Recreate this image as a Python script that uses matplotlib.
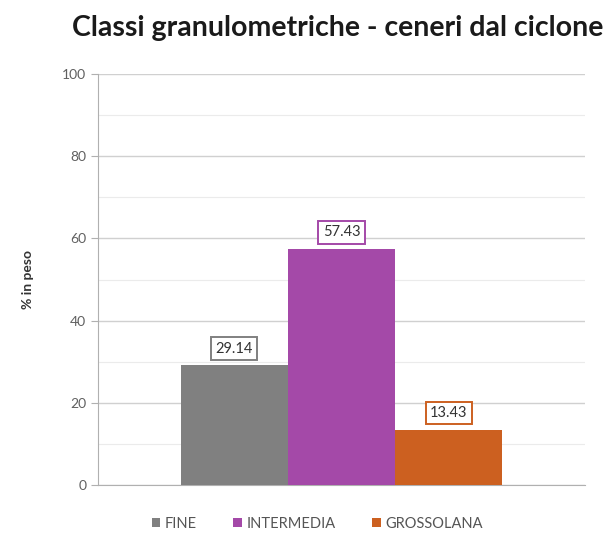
import matplotlib.pyplot as plt
from matplotlib.ticker import MultipleLocator

# dati
classi = ['FINE', 'INTERMEDIA', 'GROSSOLANA']
valori = [29.14, 57.43, 13.43]
colori = ['#808080', '#a449a8', '#cc6020']

plt.rcParams['font.family'] = ['Lato', 'DejaVu Sans']

fig = plt.figure(figsize=(6.14, 5.47), dpi=100)
ax = fig.add_axes([0.1596, 0.1133, 0.7934, 0.7514])

larg = 0.22
for i, (c, v, col) in enumerate(zip(classi, valori, colori)):
    x = (i - 1) * larg
    ax.bar(x, v, width=larg, color=col, label=c, zorder=3)
    ax.annotate(f'{v:.2f}', (x, v), xytext=(0, 7), textcoords='offset points',
                ha='center', va='bottom', fontsize=10.5, color='#333333',
                bbox=dict(boxstyle='square,pad=0.3', fc='white', ec=col, lw=1.4),
                zorder=4)

ax.set_xlim(-0.5, 0.5)
ax.set_ylim(0, 100)
ax.yaxis.set_major_locator(MultipleLocator(20))
ax.yaxis.set_minor_locator(MultipleLocator(10))
ax.grid(axis='y', which='major', color='#d0d0d0', lw=1.0, zorder=0)
ax.grid(axis='y', which='minor', color='#ebebeb', lw=0.8, zorder=0)
ax.set_xticks([])
ax.tick_params(axis='y', which='major', length=5, color='#b0b0b0',
               labelcolor='#606060', labelsize=10)
ax.tick_params(axis='y', which='minor', length=0)
for s in ['top', 'right']:
    ax.spines[s].set_visible(False)
ax.spines['left'].set_color('#b0b0b0')
ax.spines['bottom'].set_color('#b0b0b0')

ax.set_ylabel('% in peso', fontsize=10, fontweight='bold', color='#333333', labelpad=20)
fig.suptitle('Classi granulometriche - ceneri dal ciclone', x=0.55, y=0.972,
             fontsize=20.5, fontweight='bold', color='#1a1a1a')

ax.legend(loc='upper center', bbox_to_anchor=(0.45, -0.045), ncol=3, frameon=False,
          fontsize=10.5, handlelength=0.6, handleheight=0.6, handletextpad=0.3,
          columnspacing=2.5, labelcolor='#555555')

fig.savefig('out.png', dpi=100)
